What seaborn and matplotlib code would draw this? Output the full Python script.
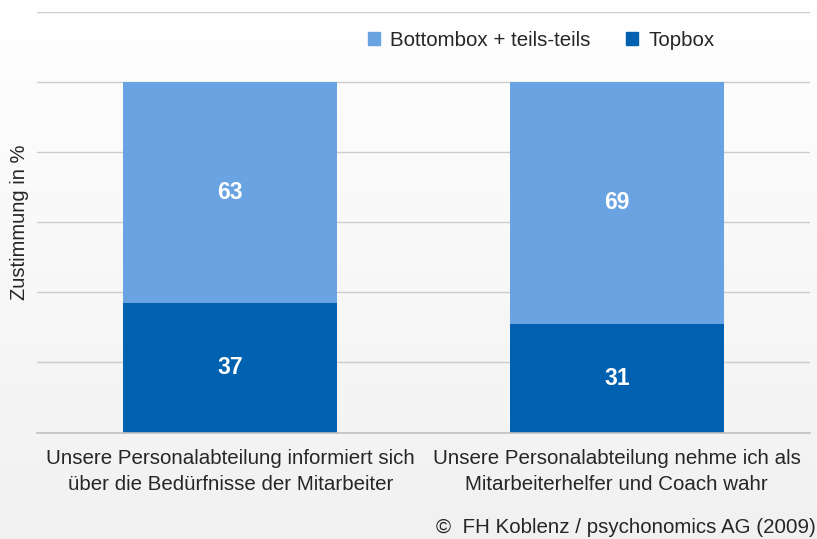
import numpy as np
import pandas as pd
import matplotlib.pyplot as plt
import seaborn as sns
from matplotlib.patches import Patch

categories = ["Unsere Personalabteilung informiert sich\nüber die Bedürfnisse der Mitarbeiter",
              "Unsere Personalabteilung nehme ich als\nMitarbeiterhelfer und Coach wahr"]
topbox = [37, 31]
bottombox = [63, 69]
series_names = ["Bottombox + teils-teils", "Topbox"]
colors = {"Bottombox + teils-teils": "#69a3e1", "Topbox": "#0061b1"}

sns.set_style("white")
plt.rcParams['font.family'] = ['Liberation Sans', 'DejaVu Sans']

fig = plt.figure(figsize=(8.17, 5.39), dpi=100)

# background gradient white -> light gray
bg = fig.add_axes([0, 0, 1, 1], zorder=-10)
grad = np.linspace(1.0, 0.945, 256).reshape(-1, 1)
bg.imshow(np.dstack([grad, grad, grad]), aspect='auto', extent=[0, 1, 0, 1])
bg.axis('off')

ax = fig.add_axes([37 / 817, 1 - 432.5 / 539, 773 / 817, 421 / 539])
ax.patch.set_alpha(0)

df = pd.DataFrame({"cat": categories, "Topbox": topbox, "Bottombox + teils-teils": bottombox})
df["total"] = df["Topbox"] + df["Bottombox + teils-teils"]

sns.barplot(data=df, x="cat", y="total", color=colors["Bottombox + teils-teils"],
            width=0.553, ax=ax, edgecolor="none", saturation=1)
sns.barplot(data=df, x="cat", y="Topbox", color=colors["Topbox"],
            width=0.553, ax=ax, edgecolor="none", saturation=1)

for i, (t, b) in enumerate(zip(topbox, bottombox)):
    ax.text(i, t / 2, str(t), ha='center', va='center', color='white',
            fontsize=16.5, fontweight='bold')
    ax.text(i, t + b / 2, str(b), ha='center', va='center', color='white',
            fontsize=16.5, fontweight='bold')

ax.set_ylim(0, 120)
ax.set_xlim(-0.5, 1.5)
ax.set_yticks(range(0, 121, 20))
ax.set_yticklabels([])
ax.tick_params(axis='y', length=0)
ax.tick_params(axis='x', length=0, labelsize=14.8, pad=12)
plt.setp(ax.get_xticklabels(), linespacing=1.45)
ax.grid(axis='y', color='#cccccc', linewidth=1)
ax.set_axisbelow(True)
for s in ["top", "right", "left"]:
    ax.spines[s].set_visible(False)
ax.spines["bottom"].set_color("#c0c0c0")
ax.spines["bottom"].set_linewidth(1.2)
ax.set_xlabel("")
ax.set_ylabel("Zustimmung in %", fontsize=14.5)
ax.yaxis.set_label_coords(-8 / 773, 0.5)

handles = [Patch(color=colors[n]) for n in series_names]
ax.legend(handles, series_names, loc='center', bbox_to_anchor=(0.652, 0.932),
          ncol=2, frameon=False, fontsize=14.8, handlelength=0.6, handleheight=0.6,
          handletextpad=0.5, columnspacing=1.7)

fig.text(0.999, 0.022, "©  FH Koblenz / psychonomics AG (2009)", ha='right', va='center',
         fontsize=14.8)

fig.savefig("out.png", dpi=100)
